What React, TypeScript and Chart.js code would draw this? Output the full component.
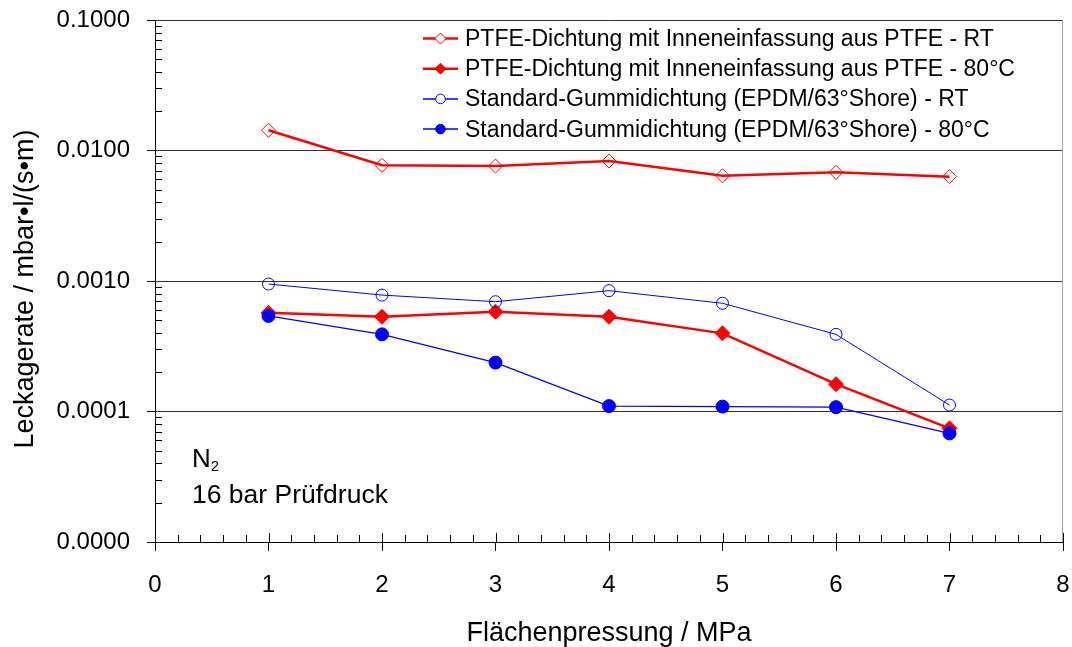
import { useEffect, useRef } from 'react';
import { Chart, registerables } from 'chart.js';

Chart.register(...registerables);

// Surface pressure (MPa) at which each leak rate was measured
const pressure = [1, 2, 3, 4, 5, 6, 7];

// Leak rates in mbar·l/(s·m)
const ptfeRT = [0.0143, 0.0077, 0.0076, 0.0083, 0.0064, 0.0068, 0.0063];
const ptfe80 = [0.00057, 0.000532, 0.000582, 0.000532, 0.000397, 0.000162, 0.0000743];
const epdmRT = [0.000948, 0.00078, 0.000694, 0.000843, 0.000675, 0.00039, 0.000112];
const epdm80 = [0.00054, 0.00039, 0.000237, 0.00011, 0.000109, 0.000108, 0.000068];

const seriesLabels = [
  'PTFE-Dichtung mit Inneneinfassung aus PTFE - RT',
  'PTFE-Dichtung mit Inneneinfassung aus PTFE - 80°C',
  'Standard-Gummidichtung (EPDM/63°Shore) - RT',
  'Standard-Gummidichtung (EPDM/63°Shore) - 80°C',
];

// Axis ticks
const yMajorTicks = [0.00001, 0.0001, 0.001, 0.01, 0.1];
const yMinorFactors = [2, 3, 4, 5, 6, 7, 8, 9];
const xMajorTicks = [0, 1, 2, 3, 4, 5, 6, 7, 8];
const xMinorPerUnit = 5;

const xTitle = 'Flächenpressung / MPa';
const yTitle = 'Leckagerate / mbar•l/(s•m)';
const noteGas = 'N';
const noteGasIndex = '2';
const notePressure = '16 bar Prüfdruck';

const FONT = '"Liberation Sans", Arial, Helvetica, sans-serif';
const RED = '#ff0000';
const BLUE = '#0000ff';

const isDecade = (v: number) => yMajorTicks.some((m) => Math.abs(v / m - 1) < 1e-6);
const isWhole = (v: number) => Math.abs(v - Math.round(v)) < 1e-6;

const yTickValues: number[] = [];
yMajorTicks.forEach((d, i) => {
  yTickValues.push(d);
  if (i < yMajorTicks.length - 1) yMinorFactors.forEach((f) => yTickValues.push(d * f));
});
yTickValues.sort((a, b) => a - b);

const xTickValues: number[] = [];
for (let i = 0; i <= (xMajorTicks.length - 1) * xMinorPerUnit; i++) {
  xTickValues.push(xMajorTicks[0] + i / xMinorPerUnit);
}

type MarkerKind = { style: 'rectRot' | 'circle'; filled: boolean };
const markers: MarkerKind[] = [
  { style: 'rectRot', filled: false },
  { style: 'rectRot', filled: true },
  { style: 'circle', filled: false },
  { style: 'circle', filled: true },
];
const colors = [RED, RED, BLUE, BLUE];
const lineWidths = [2.5, 2.5, 1, 1.3];
const pointRadii = [7, 7.5, 6, 6.5];
const seriesValues = [ptfeRT, ptfe80, epdmRT, epdm80];

function drawMarker(ctx: CanvasRenderingContext2D, kind: MarkerKind, x: number, y: number, r: number, color: string) {
  ctx.beginPath();
  if (kind.style === 'rectRot') {
    ctx.moveTo(x, y - r);
    ctx.lineTo(x + r, y);
    ctx.lineTo(x, y + r);
    ctx.lineTo(x - r, y);
    ctx.closePath();
  } else {
    ctx.arc(x, y, r, 0, Math.PI * 2);
  }
  ctx.fillStyle = kind.filled ? color : '#ffffff';
  ctx.fill();
  ctx.strokeStyle = color;
  ctx.lineWidth = 1;
  ctx.stroke();
}

const decorations = {
  id: 'decorations',
  beforeDatasetsDraw(chart: any) {
    const { ctx, chartArea: a, scales } = chart;
    const xs = scales.x;
    const ys = scales.y;
    ctx.save();
    // right edge of the plot frame
    ctx.strokeStyle = '#a6a6a6';
    ctx.lineWidth = 1;
    ctx.beginPath();
    ctx.moveTo(Math.round(a.right) - 0.5, a.top);
    ctx.lineTo(Math.round(a.right) - 0.5, a.bottom);
    ctx.stroke();
    // inward tick marks
    ctx.strokeStyle = '#000000';
    ctx.beginPath();
    xs.ticks.forEach((t: any) => {
      const px = Math.round(xs.getPixelForValue(t.value)) + 0.5;
      const len = isWhole(t.value) ? 9 : 7;
      ctx.moveTo(px, a.bottom);
      ctx.lineTo(px, a.bottom - len);
    });
    ys.ticks.forEach((t: any) => {
      if (isDecade(t.value)) return;
      const py = Math.round(ys.getPixelForValue(t.value)) + 0.5;
      ctx.moveTo(a.left, py);
      ctx.lineTo(a.left + 7, py);
    });
    ctx.stroke();
    ctx.restore();
  },
  afterDraw(chart: any) {
    const { ctx, chartArea: a } = chart;
    ctx.save();
    ctx.fillStyle = '#000000';

    // y axis title, rotated
    ctx.font = `27px ${FONT}`;
    ctx.textAlign = 'center';
    ctx.textBaseline = 'alphabetic';
    ctx.translate(33, (a.top + a.bottom) / 2 + 8);
    ctx.rotate(-Math.PI / 2);
    ctx.fillText(yTitle, 0, 0);
    ctx.setTransform(1, 0, 0, 1, 0, 0);

    // legend
    const lineX0 = 423;
    const lineX1 = 458;
    const markX = 440.5;
    const textX = 465;
    ctx.font = `23px ${FONT}`;
    ctx.textAlign = 'left';
    seriesLabels.forEach((label, i) => {
      const cy = 38.5 + 30.2 * i;
      ctx.strokeStyle = colors[i];
      ctx.lineWidth = i < 2 ? 2.5 : 1.5;
      ctx.beginPath();
      ctx.moveTo(lineX0, cy);
      ctx.lineTo(lineX1, cy);
      ctx.stroke();
      drawMarker(ctx, markers[i], markX, cy, markers[i].style === 'rectRot' ? 5.5 : 4.8, colors[i]);
      ctx.fillStyle = '#000000';
      ctx.fillText(label, textX, cy + 7.5);
    });

    // test conditions note
    ctx.fillStyle = '#000000';
    ctx.font = `26px ${FONT}`;
    ctx.fillText(noteGas, 192, 467);
    const nW = ctx.measureText(noteGas).width;
    ctx.font = `15px ${FONT}`;
    ctx.fillText(noteGasIndex, 192 + nW, 471);
    ctx.font = `26.5px ${FONT}`;
    ctx.fillText(notePressure, 192, 503);
    ctx.restore();
  },
};

export default function App() {
  const canvasRef = useRef<HTMLCanvasElement | null>(null);

  useEffect(() => {
    const canvas = canvasRef.current;
    if (!canvas) return;
    Chart.defaults.color = '#000000';
    Chart.defaults.font.family = FONT;

    const datasets = seriesLabels.map((label, i) => ({
      label,
      data: pressure.map((p, j) => ({ x: p, y: seriesValues[i][j] })),
      borderColor: colors[i],
      borderWidth: lineWidths[i],
      backgroundColor: colors[i],
      pointStyle: markers[i].style,
      pointRadius: pointRadii[i],
      pointBorderWidth: 1,
      pointBorderColor: colors[i],
      pointBackgroundColor: markers[i].filled ? colors[i] : 'rgba(255,255,255,0)',
      tension: 0,
      fill: false,
      order: seriesLabels.length - i,
    }));

    const chart = new Chart(canvas, {
      type: 'line',
      data: { datasets },
      plugins: [decorations],
      options: {
        animation: false,
        responsive: false,
        devicePixelRatio: 1,
        layout: { padding: { top: 20, right: 9, bottom: 0, left: 0 } },
        plugins: {
          legend: { display: false },
          tooltip: { enabled: false },
        },
        scales: {
          x: {
            type: 'linear',
            min: xMajorTicks[0],
            max: xMajorTicks[xMajorTicks.length - 1],
            afterBuildTicks: (axis: any) => {
              axis.ticks = xTickValues.map((v) => ({ value: v, major: isWhole(v) }));
            },
            afterFit: (axis: any) => {
              axis.height = 105;
              axis.paddingLeft = 0;
              axis.paddingRight = 0;
              axis.paddingTop = 0;
              axis.paddingBottom = 0;
            },
            ticks: {
              autoSkip: false,
              maxRotation: 0,
              padding: 20,
              font: { size: 24, family: FONT },
              color: '#000000',
              callback: (v: any) => (isWhole(Number(v)) ? String(Math.round(Number(v))) : ''),
            },
            grid: {
              drawOnChartArea: false,
              tickLength: 9,
              tickColor: (c: any) => (c.tick && isWhole(c.tick.value) ? '#000000' : 'rgba(0,0,0,0)'),
            },
            border: { display: true, color: '#000000', width: 1 },
            title: {
              display: true,
              text: xTitle,
              color: '#000000',
              font: { size: 27, family: FONT, lineHeight: 1 },
              padding: { top: 0, bottom: 0 },
            },
          },
          y: {
            type: 'logarithmic',
            min: yMajorTicks[0],
            max: yMajorTicks[yMajorTicks.length - 1],
            afterBuildTicks: (axis: any) => {
              axis.ticks = yTickValues.map((v) => ({ value: v, major: isDecade(v) }));
            },
            afterFit: (axis: any) => {
              axis.width = 155;
              axis.paddingLeft = 0;
              axis.paddingRight = 0;
              axis.paddingTop = 0;
              axis.paddingBottom = 0;
            },
            ticks: {
              autoSkip: false,
              padding: 17,
              font: { size: 24, family: FONT },
              color: '#000000',
              callback: (v: any) => (isDecade(Number(v)) ? Number(v).toFixed(4) : ''),
            },
            grid: {
              tickLength: 8,
              lineWidth: 1,
              color: (c: any) => (c.tick && isDecade(c.tick.value) ? '#333333' : 'rgba(0,0,0,0)'),
              tickColor: (c: any) => (c.tick && isDecade(c.tick.value) ? '#000000' : 'rgba(0,0,0,0)'),
            },
            border: { display: true, color: '#000000', width: 1 },
            title: { display: false, text: yTitle },
          },
        },
      } as any,
    });

    return () => chart.destroy();
  }, []);

  return (
    <div style={{ position: 'fixed', left: 0, top: 0, width: 1072, height: 647, background: '#ffffff' }}>
      <canvas ref={canvasRef} width={1072} height={647} style={{ display: 'block', width: 1072, height: 647 }} />
    </div>
  );
}
